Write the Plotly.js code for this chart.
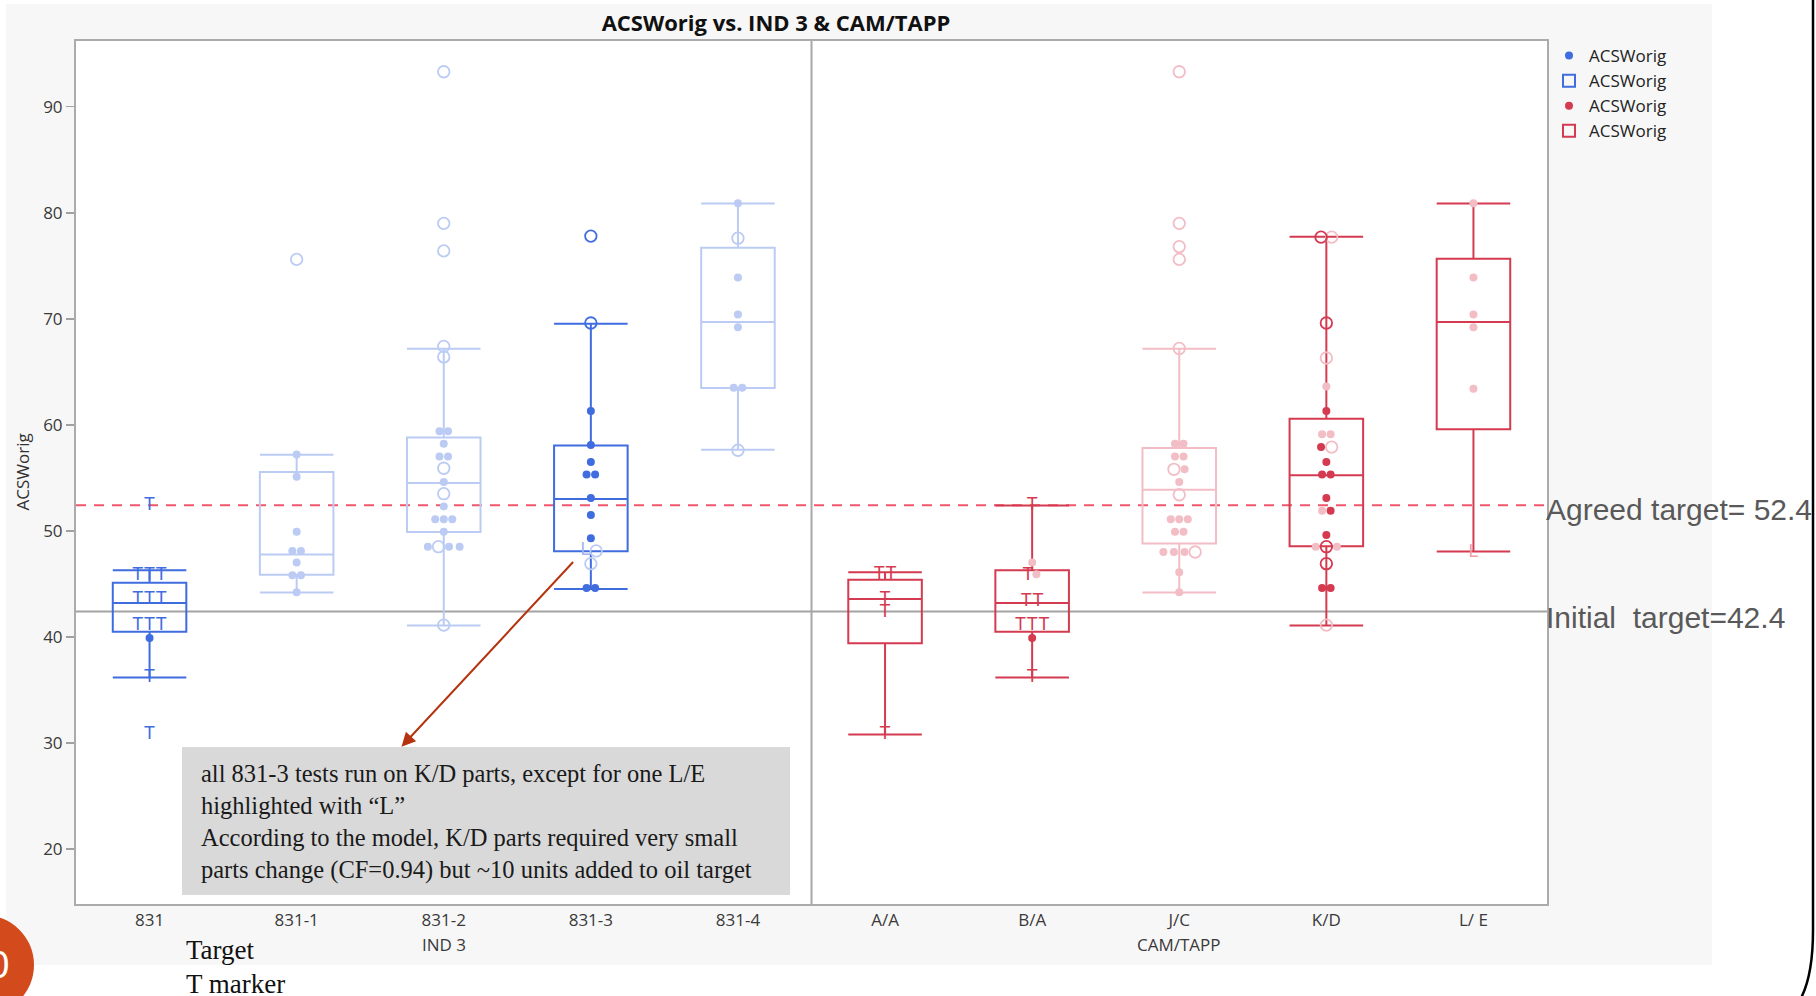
<!DOCTYPE html>
<html><head><meta charset="utf-8">
<script src="https://cdn.plot.ly/plotly-3.0.1.min.js"></script>
<style>html,body{margin:0;padding:0;background:#fff;overflow:hidden}#chart{width:1816px;height:996px}</style>
</head><body><div id="chart"></div>
<script>
// ---------------- data ----------------
const categories = ['831','831-1','831-2','831-3','831-4','A/A','B/A','J/C','K/D','L/ E'];
const groupNames = ['IND 3','CAM/TAPP'];
const groupCenterIndex = [2, 7];

// box statistics
const lowFence  = [36.16, 44.18, 41.07, 44.50, 57.64, 30.78, 36.16, 44.18, 41.07, 48.05];
const q1        = [40.47, 45.85, 49.88, 48.08, 63.46, 39.40, 40.47, 48.80, 48.55, 59.59];
const median    = [43.18, 47.77, 54.50, 53.00, 69.69, 43.58, 43.18, 53.87, 55.25, 69.69];
const q3        = [45.09, 55.54, 58.80, 58.05, 76.70, 45.38, 46.29, 57.80, 60.57, 75.66];
const highFence = [46.29, 57.17, 67.17, 69.53, 80.88, 46.10, 52.39, 67.17, 77.74, 80.88];
const boxHighlighted = [1, 0, 0, 1, 0, 1, 1, 0, 1, 1];

// points: value + marker code (D/d dot, O/o open circle, T/t target, L/l L/E part; upper case = highlighted)
const v831   = [52.4, 45.8, 45.8, 45.8, 43.5, 43.5, 43.5, 41.1, 41.1, 41.1, 39.9, 36.2, 30.8];
const m831   = ['T','T','T','T','T','T','T','T','T','T','D','T','T'];
const v831_1 = [75.6, 57.2, 55.1, 49.9, 48.1, 48.1, 47.0, 45.8, 45.8, 44.2];
const m831_1 = ['o','d','d','d','d','d','d','d','d','d'];
const v831_2 = [93.3, 79.0, 76.4, 67.4, 66.4, 59.4, 59.4, 58.2, 57.0, 57.0, 55.9, 54.6, 53.5, 52.3, 51.1, 51.1, 51.1, 49.9, 48.5, 48.5, 48.5, 48.5, 41.1];
const m831_2 = ['o','o','o','o','o','d','d','d','d','d','o','d','o','d','d','d','d','d','d','o','d','d','o'];
const v831_3 = [77.8, 69.6, 61.3, 58.1, 56.5, 55.3, 55.3, 53.1, 51.5, 49.3, 48.1, 48.1, 46.9, 44.6, 44.6];
const m831_3 = ['O','O','D','D','D','D','D','D','D','D','l','o','o','D','D'];
const v831_4 = [80.9, 77.6, 73.9, 70.4, 69.2, 63.5, 63.5, 57.6];
const m831_4 = ['d','o','d','d','d','d','d','o'];
const vAA    = [45.85, 45.85, 43.5, 42.3, 30.8];
const mAA    = ['T','T','T','T','T'];
const vBA    = [52.4, 47.0, 45.8, 45.9, 43.3, 43.3, 41.1, 41.1, 41.1, 39.9, 36.2];
const mBA    = ['T','d','T','d','T','T','T','T','T','D','T'];
const vJC    = [93.3, 79.0, 76.8, 75.6, 67.2, 58.2, 58.2, 57.0, 57.0, 55.8, 55.8, 54.6, 53.4, 51.1, 51.1, 51.1, 49.9, 49.9, 48.0, 48.0, 48.0, 48.0, 46.1, 44.2];
const mJC    = ['o','o','o','o','o','d','d','d','d','o','d','d','o','d','d','d','d','d','d','d','d','o','d','d'];
const vKD    = [77.7, 77.7, 69.6, 66.3, 63.6, 61.3, 59.1, 59.1, 57.9, 57.9, 56.5, 55.3, 55.3, 53.1, 51.9, 51.9, 49.6, 48.5, 48.5, 48.5, 46.9, 44.6, 44.6, 41.1];
const mKD    = ['O','o','O','o','d','D','d','d','D','o','D','D','D','D','d','D','D','d','O','d','O','D','D','o'];
const vLE    = [80.9, 73.9, 70.4, 69.2, 63.4, 48.0];
const mLE    = ['d','d','d','d','d','l'];

const pointValues = [v831, v831_1, v831_2, v831_3, v831_4, vAA, vBA, vJC, vKD, vLE];
const pointMarks  = [m831, m831_1, m831_2, m831_3, m831_4, mAA, mBA, mJC, mKD, mLE];

const agreedTarget = 52.4, initialTarget = 42.4;
const yTicks = [20, 30, 40, 50, 60, 70, 80, 90];
const noteLines = [
  'all 831-3 tests run on K/D parts, except for one L/E',
  'highlighted with \u201CL\u201D',
  'According to the model, K/D parts required very small',
  'parts change (CF=0.94) but ~10 units added to oil target'
];

// ---------------- geometry ----------------
const W = 1816, H = 996, ML = 76, MR = 269, MT = 41, MB = 92;
const PW = W - ML - MR, PH = H - MT - MB;
const XR = [-0.5, 9.5], YR = [14.8, 96.2];
const pxX = px => (px - ML) / PW;            // pixel -> paper x
const pxY = py => (H - MB - py) / PH;        // pixel -> paper y
const dX = px => XR[0] + (px - ML) / PW * (XR[1] - XR[0]);
const dY = py => YR[0] + (H - MB - py) / PH * (YR[1] - YR[0]);

const C = {
  b: '#3F6CDF', bf: '#BBCBF3',
  r: '#D43A50', rf: '#F2BDC5'
};

// ---------------- traces ----------------
const traces = [];
categories.forEach((c, i) => {
  const blue = i < 5;
  const col = boxHighlighted[i] ? (blue ? C.b : C.r) : (blue ? C.bf : C.rf);
  traces.push({
    type: 'box', x: [i], q1: [q1[i]], median: [median[i]], q3: [q3[i]],
    lowerfence: [lowFence[i]], upperfence: [highFence[i]],
    width: 0.5, whiskerwidth: 1, boxpoints: false,
    line: { color: col, width: 2 }, fillcolor: 'rgba(0,0,0,0)',
    name: 'ACSWorig', showlegend: (i === 0 || i === 5),
    legendrank: i === 0 ? 2 : 4, hoverinfo: 'skip'
  });
});

function dodge(vals, marks) {
  const off = vals.map(() => 0);
  const order = vals.map((v, k) => k).sort((a, b) => (vals[b] - vals[a]) || (a - b));
  const flush = grp => {
    grp.sort((a, b) => a - b);
    const allT = grp.every(k => marks[k].toUpperCase() === 'T');
    const mixed = grp.some(k => 'OoLl'.includes(marks[k]));
    const step = allT ? 0.08 : (mixed ? 0.072 : 0.058);
    grp.forEach((k, j) => off[k] = (j - (grp.length - 1) / 2) * step);
  };
  let g = [order[0]];
  for (let j = 1; j < order.length; j++) {
    const k = order[j];
    if (vals[g[0]] - vals[k] < 0.45) g.push(k); else { flush(g); g = [k]; }
  }
  flush(g);
  return off;
}

const groups = {};
pointValues.forEach((vals, i) => {
  const off = dodge(vals, pointMarks[i]);
  vals.forEach((v, k) => {
    const code = pointMarks[i][k];
    const key = (i < 5 ? 'b' : 'r') + code;
    if (!groups[key]) groups[key] = { x: [], y: [], t: [] };
    groups[key].x.push(i + off[k]);
    groups[key].y.push(v);
    groups[key].t.push(code.toUpperCase());
  });
});

const keyOrder = ['bd','bo','bt','bl','rd','ro','rt','rl','bD','bO','bT','bL','rD','rO','rT','rL'];
keyOrder.forEach(key => {
  const g = groups[key]; if (!g) return;
  const blue = key[0] === 'b', code = key[1];
  const full = code === code.toUpperCase();
  let col = full ? (blue ? C.b : C.r) : (blue ? C.bf : C.rf);
  const up = code.toUpperCase();
  if (key === 'rl') col = '#EFA0A8';
  if (key === 'bl') col = '#9FB5EE';
  const tr = { type: 'scatter', x: g.x, y: g.y, hoverinfo: 'skip', showlegend: false, name: 'ACSWorig' };
  if (up === 'D') {
    tr.mode = 'markers';
    tr.marker = { symbol: 'circle', size: 8, color: col, line: { width: 0 } };
    if (key === 'bD') { tr.showlegend = true; tr.legendrank = 1; }
    if (key === 'rD') { tr.showlegend = true; tr.legendrank = 3; }
  } else if (up === 'O') {
    tr.mode = 'markers';
    tr.marker = { symbol: 'circle-open', size: 11.5, color: col, line: { width: 1.8, color: col } };
  } else {
    tr.mode = 'text'; tr.text = g.t; tr.textposition = 'middle center';
    tr.textfont = { family: 'Liberation Sans, Arial, sans-serif', size: 18, color: col };
  }
  traces.push(tr);
});

// ---------------- layout ----------------
const sansUI = 'Open Sans, Noto Sans, sans-serif';
const serif = 'Liberation Serif, Times New Roman, serif';
const annotations = [];

annotations.push({ xref: 'paper', yref: 'paper', x: pxX(22), y: 0.5, text: 'ACSWorig', textangle: -90,
  showarrow: false, xanchor: 'center', yanchor: 'middle', font: { family: sansUI, size: 17, color: '#333' } });
groupNames.forEach((g, k) => annotations.push({ xref: 'x', yref: 'paper', x: groupCenterIndex[k], y: pxY(945),
  text: g, showarrow: false, xanchor: 'center', yanchor: 'middle', font: { family: sansUI, size: 17, color: '#3A3A3A' } }));
annotations.push({ xref: 'paper', yref: 'paper', x: 1, xshift: -3, y: pxY(509.6), text: 'Agreed target= ' + agreedTarget,
  showarrow: false, xanchor: 'left', yanchor: 'middle', font: { family: 'Liberation Sans, Arial, sans-serif', size: 30, color: '#595959' } });
annotations.push({ xref: 'paper', yref: 'paper', x: 1, xshift: -3, y: pxY(617.9), text: 'Initial\u00A0 target=' + initialTarget,
  showarrow: false, xanchor: 'left', yanchor: 'middle', font: { family: 'Liberation Sans, Arial, sans-serif', size: 30, color: '#595959' } });
const noteCenters = [773, 805.3, 837.6, 869.9];
noteLines.forEach((t, k) => annotations.push({ xref: 'paper', yref: 'paper', x: pxX(199), y: pxY(noteCenters[k]),
  text: t, showarrow: false, xanchor: 'left', yanchor: 'middle', font: { family: serif, size: 24.5, color: '#1a1a1a' } }));
annotations.push({ xref: 'x', yref: 'y', axref: 'x', ayref: 'y', x: dX(401.5), y: dY(746.7), ax: dX(574.5), ay: dY(560.5),
  text: '', showarrow: true, arrowhead: 2, arrowsize: 1.4, arrowwidth: 2, arrowcolor: '#B5330F', standoff: 0 });
annotations.push({ xref: 'paper', yref: 'paper', x: pxX(184), y: pxY(950), text: 'Target', showarrow: false,
  xanchor: 'left', yanchor: 'middle', font: { family: serif, size: 27, color: '#111' } });
annotations.push({ xref: 'paper', yref: 'paper', x: pxX(184), y: pxY(984), text: 'T marker', showarrow: false,
  xanchor: 'left', yanchor: 'middle', font: { family: serif, size: 27, color: '#111' } });
annotations.push({ xref: 'paper', yref: 'paper', x: pxX(11), y: pxY(965), text: '10', showarrow: false,
  xanchor: 'right', yanchor: 'middle', font: { family: 'Liberation Sans, Arial, sans-serif', size: 38, color: '#ffffff' } });

const shapes = [
  { type: 'rect', xref: 'paper', yref: 'paper', x0: pxX(6), x1: pxX(1712), y0: pxY(965), y1: pxY(4),
    fillcolor: '#F7F7F7', line: { width: 0 }, layer: 'below' },
  { type: 'rect', xref: 'paper', yref: 'paper', x0: 0, x1: 1, y0: 0, y1: 1, fillcolor: '#FFFFFF', line: { width: 0 }, layer: 'below' },
  { type: 'rect', xref: 'paper', yref: 'paper', x0: pxX(182), x1: pxX(790), y0: pxY(895), y1: pxY(747),
    fillcolor: '#D9D9D9', line: { width: 0 }, layer: 'below' },
  { type: 'line', xref: 'x', yref: 'paper', x0: 4.5, x1: 4.5, y0: 0, y1: 1, line: { color: '#A8A8A8', width: 2 }, layer: 'below' },
  { type: 'line', xref: 'paper', yref: 'y', x0: 0, x1: 1, y0: initialTarget, y1: initialTarget, line: { color: '#A3A3A3', width: 2 }, layer: 'below' },
  { type: 'line', xref: 'paper', yref: 'y', x0: 0, x1: 1, y0: agreedTarget, y1: agreedTarget, line: { color: '#F0566C', width: 2, dash: '10px,8px' }, layer: 'below' },
  { type: 'circle', xref: 'paper', yref: 'paper', x0: pxX(-66), x1: pxX(34), y0: pxY(1015), y1: pxY(915),
    fillcolor: '#D34A1C', line: { width: 0 }, layer: 'above' },
  { type: 'path', xref: 'paper', yref: 'paper', layer: 'above', line: { color: '#000', width: 2.5 },
    path: `M ${pxX(1813)},${pxY(-2)} L ${pxX(1813)},${pxY(930)} Q ${pxX(1813)},${pxY(975)} ${pxX(1801)},${pxY(998)}` }
];

const layout = {
  width: W, height: H,
  margin: { l: ML, r: MR, t: MT, b: MB, pad: 0 },
  paper_bgcolor: '#FFFFFF', plot_bgcolor: 'rgba(0,0,0,0)',
  font: { family: sansUI, color: '#333' },
  title: { text: '<b>ACSWorig vs. IND 3 &amp; CAM/TAPP</b>', x: 776 / W, xref: 'container', xanchor: 'center',
    y: 1 - 23 / H, yref: 'container', yanchor: 'middle', font: { family: sansUI, size: 22, color: '#111' } },
  xaxis: { range: XR, tickmode: 'array', tickvals: categories.map((c, i) => i), ticktext: categories,
    showgrid: false, zeroline: false, showline: true, mirror: true, linecolor: '#ABABAB', linewidth: 2,
    ticks: '', tickfont: { family: sansUI, size: 17, color: '#3A3A3A' }, fixedrange: true },
  yaxis: { range: YR, tickmode: 'array', tickvals: yTicks, showgrid: false, zeroline: false,
    showline: true, mirror: true, linecolor: '#ABABAB', linewidth: 2,
    ticks: 'outside', ticklen: 8, tickcolor: '#A0A0A0', tickwidth: 1.5,
    tickfont: { family: sansUI, size: 17, color: '#3A3A3A' }, fixedrange: true },
  boxmode: 'overlay',
  showlegend: true,
  legend: { x: pxX(1549), xanchor: 'left', y: pxY(38), yanchor: 'top', bgcolor: 'rgba(0,0,0,0)',
    font: { family: sansUI, size: 17, color: '#222' }, tracegroupgap: 0, traceorder: 'normal' },
  shapes, annotations
};

Plotly.newPlot('chart', traces, layout, { displayModeBar: false, staticPlot: true });
</script></body></html>
